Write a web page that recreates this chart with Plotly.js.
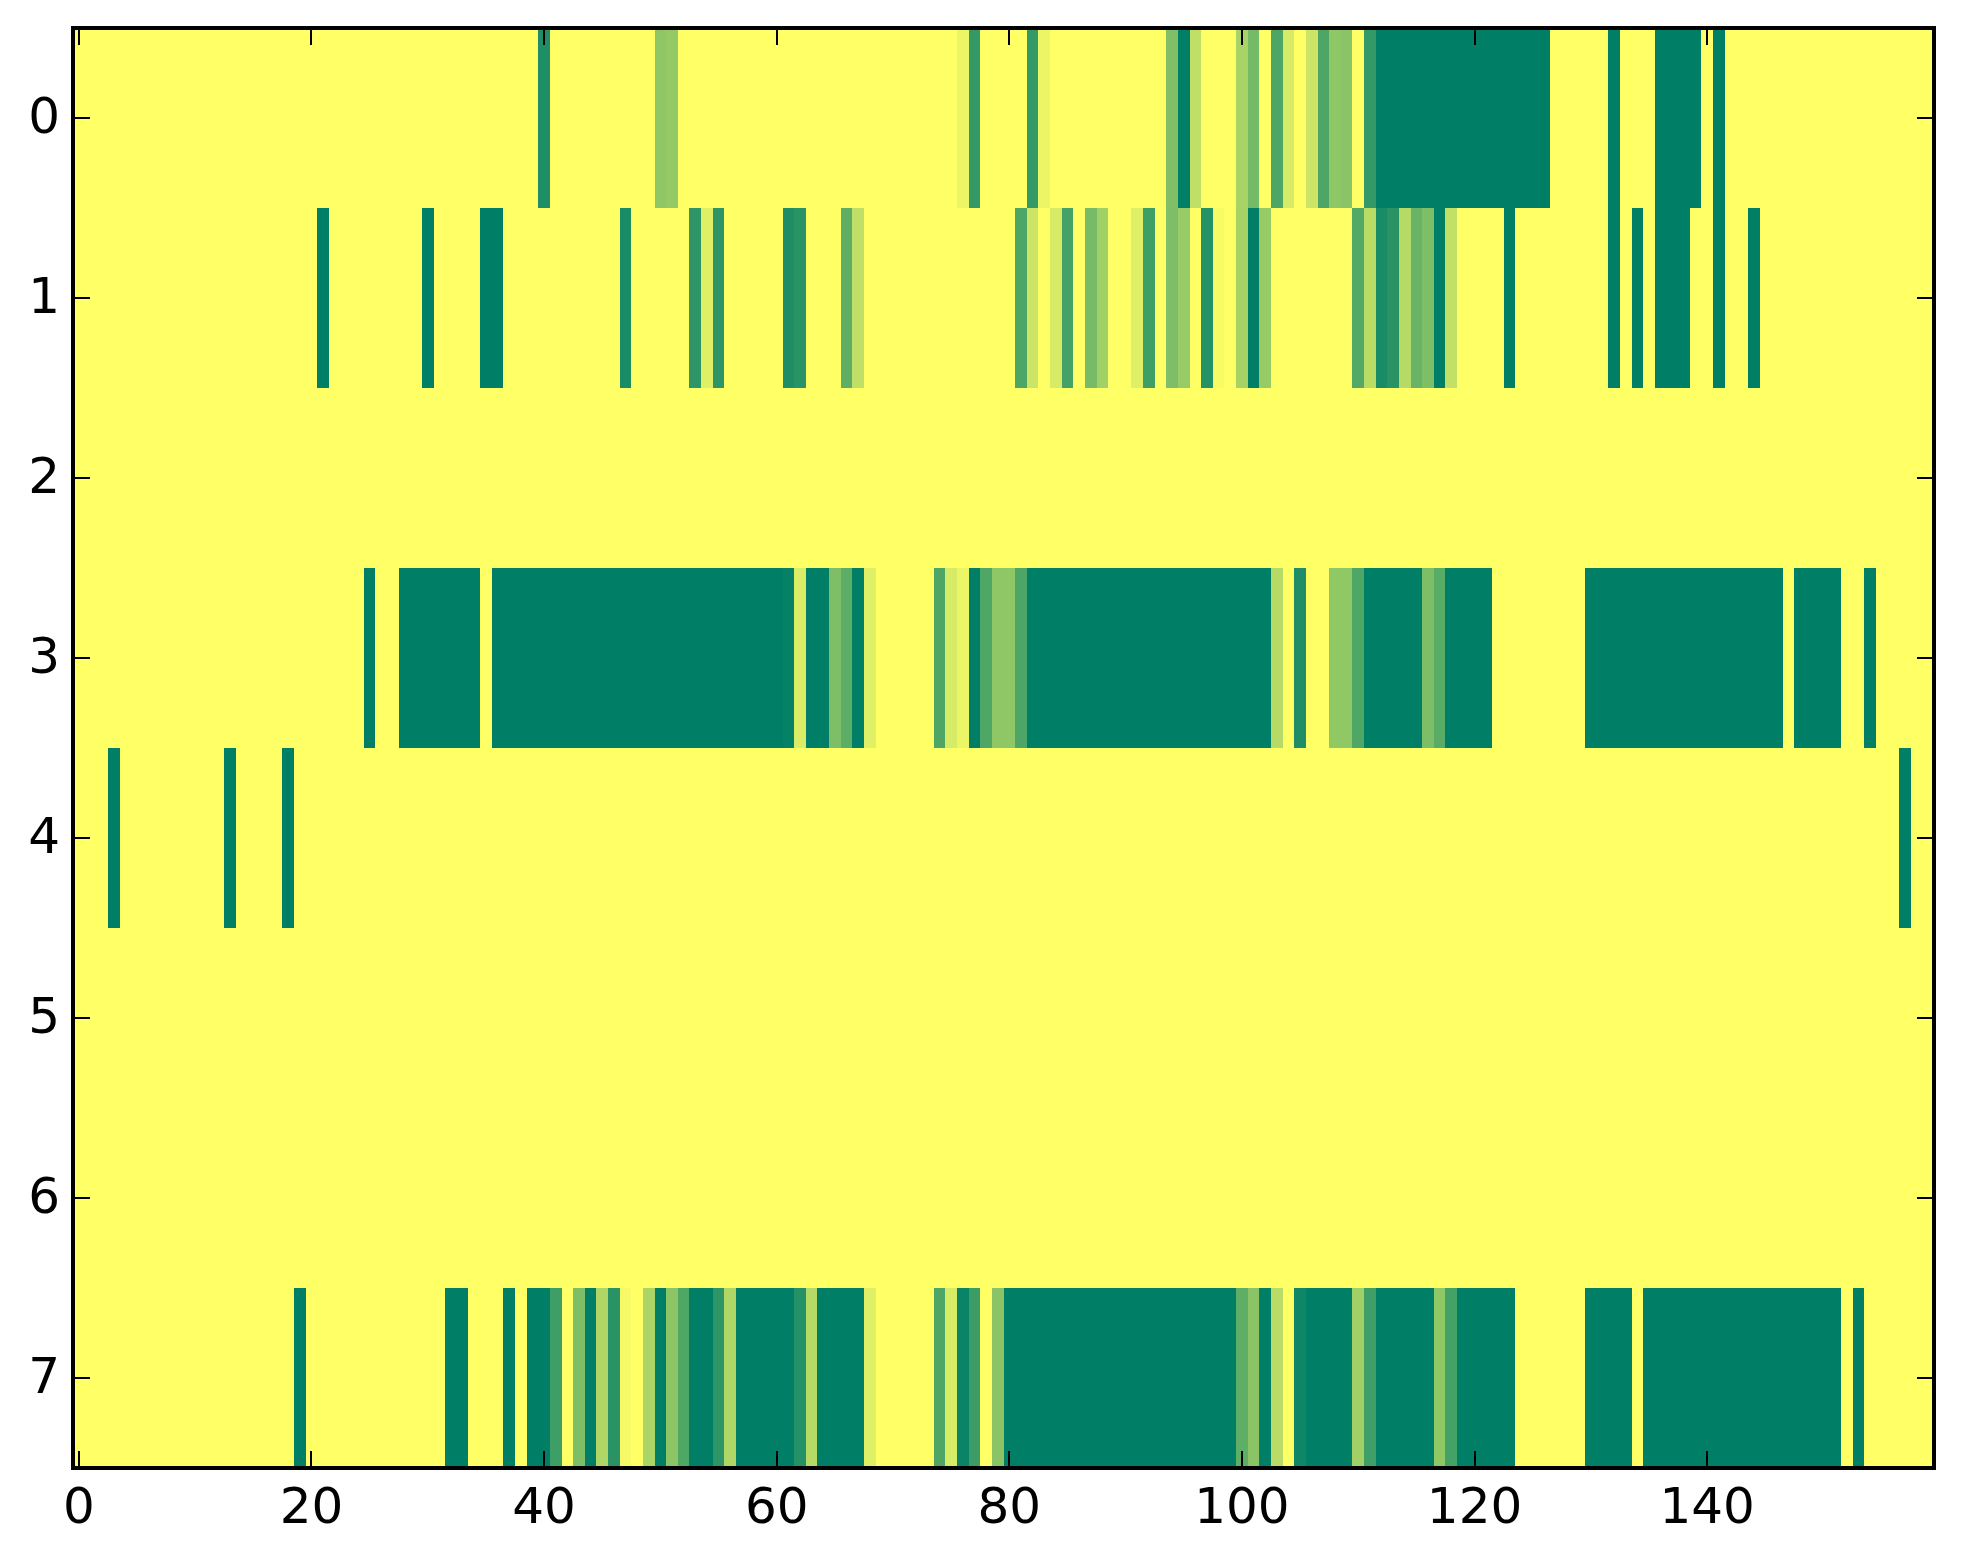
<!DOCTYPE html>
<html><head><meta charset="utf-8">
<script src="https://cdn.plot.ly/plotly-3.0.1.min.js"></script>
<style>html,body{margin:0;padding:0;background:#fff}</style></head>
<body><div id="chart" style="width:1963px;height:1564px"></div>
<script>
const nCols = 160;
const rowLabels = [0,1,2,3,4,5,6,7];
const xTicks = [0,20,40,60,80,100,120,140];
// each run: [first column, last column, value]
const row0 = [[40,40,.88],[50,50,.44],[51,51,.42],[76,76,.08],[77,77,.8],[82,82,.8],[83,83,.08],[94,94,.5],[95,95,1],[96,96,.25],[100,100,.34],[101,101,.54],[103,103,.7],[104,104,.16],[106,106,.2],[107,107,.7],[108,108,.44],[109,109,.46],[111,111,.8],[112,126,1],[132,132,1],[136,139,1],[141,141,1]];
const row1 = [[21,21,1],[30,30,1],[35,36,1],[47,47,.9],[53,53,.82],[54,54,.12],[55,55,.82],[61,61,.88],[62,62,.84],[66,66,.63],[67,67,.25],[81,81,.7],[82,82,.2],[84,84,.16],[85,85,.73],[87,87,.53],[88,88,.37],[91,91,.12],[92,92,.76],[94,94,.51],[95,95,.41],[97,97,.86],[98,98,.03],[100,100,.35],[101,101,1],[102,102,.41],[110,110,.67],[111,111,.27],[112,112,.9],[113,113,.84],[114,114,.29],[115,115,.59],[116,116,.51],[117,117,1],[118,118,.24],[123,123,1],[132,132,1],[134,134,1],[136,138,1],[141,141,1],[144,144,1]];
const row2 = [];
const row3 = [[25,25,1],[28,34,1],[36,60,1],[61,61,.98],[62,62,.14],[63,64,1],[65,65,.51],[66,66,.64],[67,67,1],[68,68,.12],[74,74,.7],[75,75,.16],[76,76,.08],[77,77,1],[78,78,.69],[79,80,.44],[81,81,.7],[82,102,1],[103,103,.29],[105,105,.88],[108,109,.43],[110,110,.69],[111,115,1],[116,116,.51],[117,117,.65],[118,121,1],[130,146,1],[148,151,1],[154,154,1]];
const row4 = [[3,3,1],[13,13,1],[18,18,1],[157,157,1]];
const row5 = [];
const row6 = [];
const row7 = [[19,19,1],[32,33,1],[37,37,1],[39,40,1],[41,41,.76],[43,43,.51],[44,44,1],[45,45,.31],[46,46,.84],[47,47,.04],[49,49,.33],[50,50,1],[51,51,.45],[52,52,.69],[53,54,1],[55,55,.82],[56,56,.31],[57,61,1],[62,62,.86],[63,63,.29],[64,67,1],[68,68,.12],[74,74,.7],[75,75,.16],[76,76,.96],[77,77,.77],[79,79,.46],[80,99,1],[100,100,.63],[101,101,.46],[102,102,1],[103,103,.27],[105,105,.94],[106,109,1],[110,110,.37],[111,111,.75],[112,116,1],[117,117,.43],[118,118,.73],[119,123,1],[130,133,1],[135,151,1],[153,153,1]];
const rows = [row0,row1,row2,row3,row4,row5,row6,row7];
const z = rows.map(runs => {
  const a = new Array(nCols).fill(0);
  runs.forEach(r => { for (let c = r[0]; c <= r[1]; c++) a[c] = r[2]; });
  return a;
});
const fontSpec = {family:'"DejaVu Sans"', size:50, color:'#000'};
const axisBase = {showgrid:false, zeroline:false, showline:true, linecolor:'#000', linewidth:1, mirror:'allticks', ticks:'inside', ticklen:17, tickwidth:2, tickcolor:'#000', tickfont:fontSpec};
Plotly.newPlot('chart',[{type:'heatmap', z:z, zmin:0, zmax:1, zsmooth:false, showscale:false, hoverinfo:'skip',
  colorscale:[[0,'rgb(255,255,102)'],[1,'rgb(0,127,102)']]}],
 {width:1963,height:1564,paper_bgcolor:'#fff',plot_bgcolor:'#ffff66',showlegend:false,
  margin:{l:73,r:29,t:28,b:96,pad:0},
  shapes:[{type:'rect',xref:'paper',yref:'paper',x0:0,x1:1,y0:0,y1:1,layer:'above',line:{color:'#000',width:4},fillcolor:'rgba(0,0,0,0)'}],
  xaxis:Object.assign({},axisBase,{range:[-0.5,159.5],tickvals:xTicks,ticktext:xTicks.map(String),tickangle:0,ticklabelstandoff:-6}),
  yaxis:Object.assign({},axisBase,{range:[7.5,-0.5],tickvals:rowLabels,ticktext:rowLabels.map(String),ticklabelstandoff:2,ticklabelshift:3})
 },{displayModeBar:false,staticPlot:true});
</script></body></html>
